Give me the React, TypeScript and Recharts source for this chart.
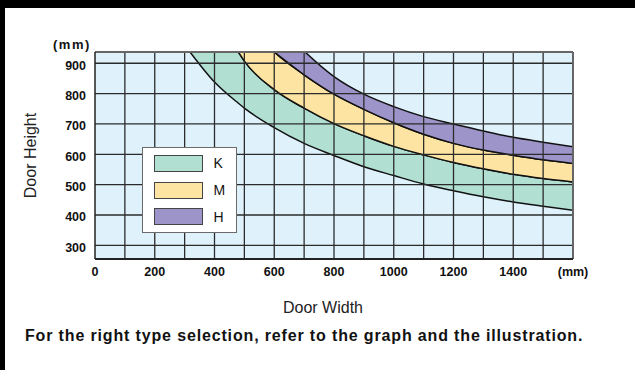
import React from 'react';
import {
  ComposedChart,
  Area,
  XAxis,
  YAxis,
  CartesianGrid,
  ReferenceLine,
  Legend,
} from 'recharts';

// ---- data (values above 937 are estimates of the part hidden above the plot) ----
const doorWidths = [318, 400, 480, 500, 600, 700, 800, 900, 1000, 1100, 1200, 1300, 1400, 1500, 1600];
// lower edge of K band
const curveK = [937, 838, 768, 752, 688, 636, 596, 559, 530, 502, 480, 460, 443, 429, 416];
// boundary K / M
const curveKM = [1200, 1060, 937, 907, 813, 752, 701, 661, 626, 598, 573, 552, 534, 520, 509];
// boundary M / H
const curveMH = [null, null, 1075, 1050, 937, 862, 798, 748, 704, 666, 636, 614, 597, 582, 570];
// upper edge of H band
const curveH = [null, null, null, null, 1040, 940, 856, 798, 757, 724, 700, 677, 656, 640, 625];

const bandNames = ['K', 'M', 'H'];
const bandKeys = ['k', 'm', 'h'];
const bandColors = ['#b1dfd2', '#fee4a2', '#9d95ca'];

const xTicks = [0, 200, 400, 600, 800, 1000, 1200, 1400, 1600];
const yTicks = [300, 400, 500, 600, 700, 800, 900];
const gridX = [100, 200, 300, 400, 500, 600, 700, 800, 900, 1000, 1100, 1200, 1300, 1400, 1500];
const gridY = [300, 400, 500, 600, 700, 800, 900];
const xDomain = [0, 1600];
const yDomain = [255, 937];

const xAxisTitle = 'Door Width';
const yAxisTitle = 'Door Height';
const unitLabel = '(mm)';
const footnote = 'For the right type selection, refer to the graph and the illustration.';

const data = doorWidths.map((w, i) => ({
  w,
  k: [curveK[i], curveKM[i]],
  m: curveMH[i] != null ? [curveKM[i], curveMH[i]] : null,
  h: curveH[i] != null ? [curveMH[i], curveH[i]] : null,
}));

const FONT = "'Liberation Sans', Arial, Helvetica, sans-serif";
const GRID = '#2b2b2b';

function LegendBox() {
  return (
    <div
      style={{
        width: 95,
        height: 86,
        boxSizing: 'border-box',
        background: '#fff',
        border: '1.5px solid #6a6a6a',
        padding: '2px 0 0 11px',
      }}
    >
      {bandNames.map((n, i) => (
        <div key={n} style={{ display: 'flex', alignItems: 'center', height: 26.7 }}>
          <div
            style={{
              width: 49,
              height: 17,
              boxSizing: 'border-box',
              background: bandColors[i],
              border: '1px solid #444',
            }}
          />
          <span style={{ marginLeft: 11, fontSize: 14, fontFamily: FONT, color: '#111', lineHeight: '16px' }}>
            {n}
          </span>
        </div>
      ))}
    </div>
  );
}

const tickStyle = { fill: '#111', fontSize: 12.5, fontWeight: 700, fontFamily: FONT };

export default function App() {
  return (
    <div
      style={{
        position: 'absolute',
        left: 0,
        top: 0,
        width: 635,
        height: 370,
        background: '#fff',
        overflow: 'hidden',
      }}
    >
      <ComposedChart
        width={635}
        height={370}
        data={data}
        margin={{ top: 52, right: 62, bottom: 0, left: 0 }}
      >
        <CartesianGrid horizontal={false} vertical={false} fill="#dff2fc" stroke="none" />
        <XAxis
          dataKey="w"
          type="number"
          domain={xDomain}
          ticks={xTicks}
          interval={0}
          allowDataOverflow
          height={111}
          tickLine={false}
          tickSize={0}
          tickMargin={8}
          axisLine={{ stroke: '#222', strokeWidth: 2 }}
          tick={tickStyle}
          tickFormatter={(v) => (v === 1600 ? unitLabel : String(v))}
          label={{
            value: xAxisTitle,
            position: 'insideTop',
            offset: 43,
            dx: -11,
            style: { fontSize: 16, fill: '#222', fontFamily: FONT },
          }}
        />
        <YAxis
          type="number"
          domain={yDomain}
          ticks={yTicks}
          interval={0}
          allowDataOverflow
          width={95}
          tickLine={false}
          tickSize={0}
          tickMargin={9}
          axisLine={{ stroke: '#222', strokeWidth: 1.5 }}
          tick={{ ...tickStyle, dy: 2 }}
          label={{
            value: yAxisTitle,
            angle: -90,
            position: 'insideLeft',
            offset: 30,
            style: { textAnchor: 'middle', fontSize: 16, fill: '#222', fontFamily: FONT },
          }}
        />
        {bandKeys.map((k, i) => (
          <Area
            key={k}
            dataKey={k}
            name={bandNames[i]}
            type="monotone"
            fill={bandColors[i]}
            fillOpacity={1}
            stroke="#111"
            strokeWidth={1.5}
            dot={false}
            activeDot={false}
            isAnimationActive={false}
          />
        ))}
        {gridX.map((v) => (
          <ReferenceLine key={'gx' + v} x={v} stroke={GRID} strokeWidth={1.3} />
        ))}
        {gridY.map((v) => (
          <ReferenceLine key={'gy' + v} y={v} stroke={GRID} strokeWidth={1.3} />
        ))}
        <ReferenceLine y={yDomain[1]} stroke="#666" strokeWidth={2} />
        <ReferenceLine x={xDomain[1]} stroke="#666" strokeWidth={2} />
        <Legend
          layout="vertical"
          align="center"
          verticalAlign="middle"
          content={() => <LegendBox />}
          wrapperStyle={{ left: 141.5, top: 147, right: 'auto', bottom: 'auto', width: 95, height: 86 }}
        />
      </ComposedChart>
      <div
        style={{
          position: 'absolute',
          left: 53,
          top: 38,
          fontSize: 13,
          fontWeight: 700,
          fontFamily: FONT,
          color: '#111',
          letterSpacing: 1.5,
          lineHeight: '14px',
        }}
      >
        {unitLabel}
      </div>
      <div
        style={{
          position: 'absolute',
          left: 25,
          top: 328,
          fontSize: 16,
          fontWeight: 700,
          fontFamily: FONT,
          color: '#111',
          letterSpacing: 0.85,
          lineHeight: '16px',
          whiteSpace: 'nowrap',
        }}
      >
        {footnote}
      </div>
      <div style={{ position: 'absolute', left: 0, top: 0, width: 635, height: 8, background: '#000' }} />
      <div style={{ position: 'absolute', left: 0, top: 0, width: 5, height: 370, background: '#000' }} />
    </div>
  );
}
